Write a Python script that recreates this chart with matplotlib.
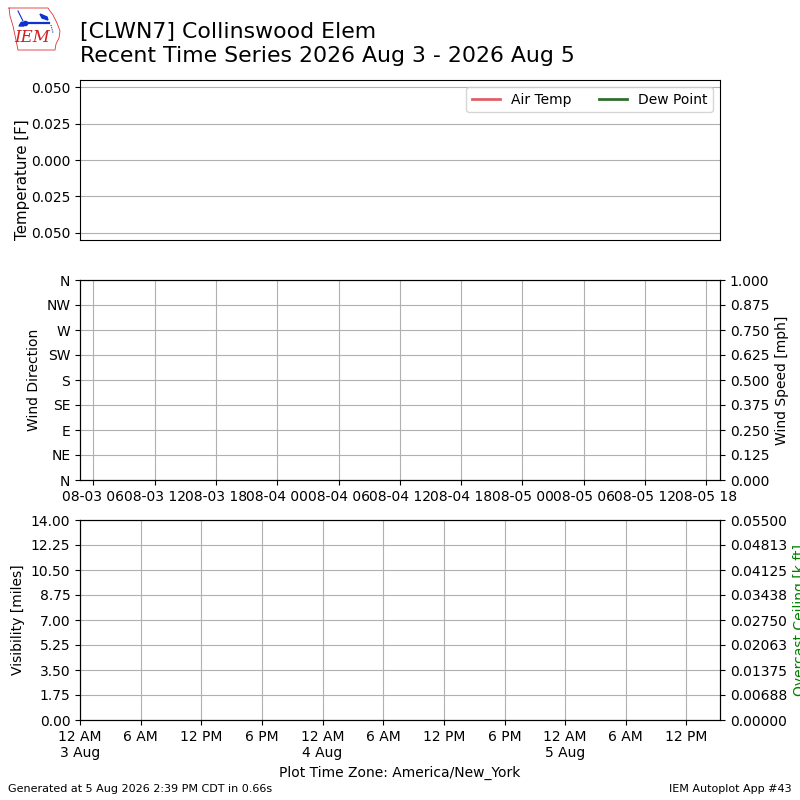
import datetime
import matplotlib
matplotlib.use('Agg')
import matplotlib.pyplot as plt
import matplotlib.dates as mdates
from matplotlib.ticker import FuncFormatter, FormatStrFormatter
import numpy as np

# station had no observations in the window, so every series is empty
valid = []
tmpf = []
dwpf = []
drct = []
sknt = []
vsby = []
ceiling = []

station = "[CLWN7] Collinswood Elem"
subtitle = "Recent Time Series 2026 Aug 3 - 2026 Aug 5"
footer_left = "Generated at 5 Aug 2026 2:39 PM CDT in 0.66s"
footer_right = "IEM Autoplot App #43"
tzname = "America/New_York"

drct_labels = ["N", "NE", "E", "SE", "S", "SW", "W", "NW", "N"]
drct_ticks = [0, 45, 90, 135, 180, 225, 270, 315, 360]

wind_window = (datetime.datetime(2026, 8, 3, 4, 42), datetime.datetime(2026, 8, 5, 19, 20))
vis_window = (datetime.datetime(2026, 8, 3, 0, 0), datetime.datetime(2026, 8, 5, 15, 19))
vsby_max = 14.0
ceiling_max = 0.055

fig = plt.figure(figsize=(8, 8), dpi=100)

# title block
fig.text(0.1, 0.972, station + "\n" + subtitle, fontsize=15.8, va='top', ha='left',
         linespacing=1.25)

# rough IEM logo in the corner
lax = fig.add_axes([0, 1 - 55 / 800., 70 / 800., 55 / 800.])
lax.set_xlim(0, 70)
lax.set_ylim(55, 0)
lax.axis('off')
outline_x = [9, 48, 50, 53, 57, 60, 59, 56, 55, 18, 16, 13, 10, 9]
outline_y = [8, 8, 11, 15, 23, 31, 38, 44, 50, 50, 40, 26, 16, 8]
lax.plot(outline_x, outline_y, color='#e03030', lw=0.6)
lax.plot([22, 49], [23, 23], color='#1030d0', lw=1.6)
lax.plot([25], [23], 'o', color='#1030d0', ms=3)
lax.plot([18, 23], [11, 21], color='#1030d0', lw=0.8)
lax.fill([40, 47, 48, 42], [14, 17, 20, 18], color='#1030d0')
lax.plot([51, 53], [25, 33], color='#1030d0', lw=0.8, ls=(0, (1, 1)))
lax.fill([19, 21.5, 24], [26, 22, 26], color='#1030d0')
lax.text(32, 38, "IEM", color='#d02020', fontsize=12, family='DejaVu Serif',
         style='italic', ha='center', va='center')

# temperature panel
ax1 = fig.add_axes([0.1, 0.7, 0.8, 0.2])
ax1.plot(valid, tmpf, color='#e0606a', lw=2, label='Air Temp')
ax1.plot(valid, dwpf, color='#2f6e2f', lw=2, label='Dew Point')
ax1.set_ylim(-0.055, 0.055)
ax1.set_yticks([-0.05, -0.025, 0, 0.025, 0.05])
ax1.yaxis.set_major_formatter(FuncFormatter(lambda v, p: "%.3f" % abs(v)))
ax1.set_xticks([])
ax1.grid(True)
ax1.set_ylabel("Temperature [F]", fontsize=10.8)
ax1.yaxis.set_label_coords(-0.078, 0.38)
ax1.legend(loc='upper right', ncol=2)

# wind panel
ax2 = fig.add_axes([0.1, 0.4, 0.8, 0.25])
ax2.scatter(valid, drct)
ax2.set_xlim(*wind_window)
ax2.set_ylim(0, 360)
ax2.set_yticks(drct_ticks)
ax2.set_yticklabels(drct_labels)
ax2.xaxis.set_major_locator(mdates.HourLocator(byhour=range(0, 24, 6)))
ax2.xaxis.set_major_formatter(mdates.DateFormatter('%m-%d %H'))
ax2.grid(True)
ax2.set_ylabel("Wind Direction")
ax2b = ax2.twinx()
ax2b.plot(valid, sknt)
ax2b.set_ylim(0, 1)
ax2b.set_yticks(np.linspace(0, 1, 9))
ax2b.yaxis.set_major_formatter(FormatStrFormatter('%.3f'))
ax2b.set_ylabel("Wind Speed [mph]")


# visibility / ceiling panel
def hour_label(x, pos):
    dt = mdates.num2date(x)
    if dt.hour == 0:
        return "12 AM\n%d %s" % (dt.day, dt.strftime('%b'))
    h = dt.hour % 12
    return "%d %s" % (12 if h == 0 else h, "AM" if dt.hour < 12 else "PM")


ax3 = fig.add_axes([0.1, 0.1, 0.8, 0.25])
ax3.plot(valid, vsby)
ax3.set_xlim(*vis_window)
ax3.set_ylim(0, vsby_max)
ax3.set_yticks(np.linspace(0, vsby_max, 9))
ax3.yaxis.set_major_formatter(FormatStrFormatter('%.2f'))
ax3.xaxis.set_major_locator(mdates.HourLocator(byhour=range(0, 24, 6)))
ax3.xaxis.set_major_formatter(FuncFormatter(hour_label))
ax3.grid(True)
ax3.set_ylabel("Visibility [miles]")
ax3.set_xlabel("Plot Time Zone: %s" % tzname)
ax3b = ax3.twinx()
ax3b.plot(valid, ceiling, color='g')
ax3b.set_ylim(0, ceiling_max)
ax3b.set_yticks(np.linspace(0, ceiling_max, 9))
ax3b.yaxis.set_major_formatter(FormatStrFormatter('%.5f'))
ax3b.set_ylabel("Overcast Ceiling [k ft]", color='g')

fig.text(0.01, 0.008, footer_left, fontsize=8, va='bottom', ha='left')
fig.text(0.99, 0.008, footer_right, fontsize=8, va='bottom', ha='right')

fig.savefig('out.png', dpi=100)
